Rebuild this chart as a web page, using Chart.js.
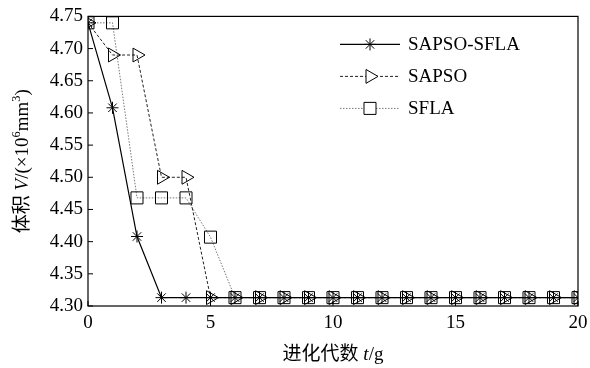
<!DOCTYPE html>
<html>
<head>
<meta charset="utf-8">
<script src="https://cdn.jsdelivr.net/npm/chart.js@4"></script>
<style>
  body { margin: 0; background: #fff; }
  #wrap { width: 590px; height: 368px; }
</style>
</head>
<body>
<div id="wrap"><canvas id="chart" width="590" height="368"></canvas></div>
<script>
const generations = [0, 1, 2, 3, 4, 5, 6, 7, 8, 9, 10, 11, 12, 13, 14, 15, 16, 17, 18, 19, 20];
const sapsoSfla = [4.74, 4.608, 4.408, 4.313, 4.313, 4.313, 4.313, 4.313, 4.313, 4.313, 4.313, 4.313, 4.313, 4.313, 4.313, 4.313, 4.313, 4.313, 4.313, 4.313, 4.313];
const sapso = [4.74, 4.69, 4.69, 4.50, 4.50, 4.313, 4.313, 4.313, 4.313, 4.313, 4.313, 4.313, 4.313, 4.313, 4.313, 4.313, 4.313, 4.313, 4.313, 4.313, 4.313];
const sfla = [4.74, 4.74, 4.468, 4.468, 4.468, 4.407, 4.313, 4.313, 4.313, 4.313, 4.313, 4.313, 4.313, 4.313, 4.313, 4.313, 4.313, 4.313, 4.313, 4.313, 4.313];
const seriesNames = ['SAPSO-SFLA', 'SAPSO', 'SFLA'];
const yTicks = [4.30, 4.35, 4.40, 4.45, 4.50, 4.55, 4.60, 4.65, 4.70, 4.75];
const xTicks = [0, 5, 10, 15, 20];

const serif = '"Liberation Serif", "Times New Roman", "Noto Sans CJK SC", serif';
const fs = 19;

const toPoints = vals => vals.map((v, i) => ({ x: generations[i], y: v }));

// text runs: [text, italic, superscript]
const xTitle = [['进化代数 ', false, false], ['t', true, false], ['/g', false, false]];
const yTitle = [['体积 ', false, false], ['V', true, false], ['/(×10', false, false], ['6', false, true],
                ['mm', false, false], ['3', false, true], [')', false, false]];

function runFont(r) {
    const size = r[2] ? fs * 0.65 : fs;
    return (r[1] ? 'italic ' : '') + size + 'px ' + serif;
}

function drawRuns(ctx, runs, cx, cy) {
    let total = 0;
    runs.forEach(r => { ctx.font = runFont(r); total += ctx.measureText(r[0]).width; });
    let x = cx - total / 2;
    ctx.textBaseline = 'alphabetic';
    runs.forEach(r => {
        ctx.font = runFont(r);
        ctx.fillText(r[0], x, cy + (r[2] ? -fs * 0.4 : 0));
        x += ctx.measureText(r[0]).width;
    });
}

// frame, inward ticks, axis titles and in-plot legend
const framePlugin = {
    id: 'frame',
    afterDraw(chart) {
        const { ctx, chartArea: a, scales } = chart;
        ctx.save();
        ctx.strokeStyle = '#000';
        ctx.lineWidth = 1.2;
        ctx.strokeRect(a.left, a.top, a.right - a.left, a.bottom - a.top);
        ctx.lineWidth = 1;
        ctx.beginPath();
        yTicks.forEach(v => {
            const y = scales.y.getPixelForValue(v);
            ctx.moveTo(a.left, y); ctx.lineTo(a.left + 5, y);
        });
        xTicks.forEach(v => {
            const x = scales.x.getPixelForValue(v);
            ctx.moveTo(x, a.bottom); ctx.lineTo(x, a.bottom - 5);
        });
        ctx.stroke();

        ctx.fillStyle = '#000';
        drawRuns(ctx, xTitle, (a.left + a.right) / 2, a.bottom + 54);
        ctx.save();
        ctx.translate(28, (a.top + a.bottom) / 2);
        ctx.rotate(-Math.PI / 2);
        drawRuns(ctx, yTitle, 0, 0);
        ctx.restore();

        // legend
        const lx = 340, lw = 60;
        chart.data.datasets.forEach((ds, i) => {
            const y = a.top + 28 + i * 32;
            ctx.strokeStyle = ds.borderColor;
            ctx.lineWidth = ds.borderWidth;
            ctx.setLineDash(ds.borderDash || []);
            ctx.beginPath();
            ctx.moveTo(lx, y); ctx.lineTo(lx + lw, y);
            ctx.stroke();
            ctx.setLineDash([]);
            ctx.strokeStyle = '#000';
            ctx.fillStyle = '#fff';
            ctx.lineWidth = 1;
            Chart.helpers.drawPoint(ctx, {
                pointStyle: ds.pointStyle,
                radius: ds.pointRadius,
                rotation: ds.pointRotation || 0,
                borderWidth: 1
            }, lx + lw / 2, y);
            ctx.fillStyle = '#000';
            ctx.font = fs + 'px ' + serif;
            ctx.textBaseline = 'middle';
            ctx.fillText(ds.label, lx + lw + 8, y + 1);
        });
        ctx.restore();
    }
};

new Chart(document.getElementById('chart'), {
    type: 'line',
    data: {
        datasets: [
            {
                label: seriesNames[0],
                data: toPoints(sapsoSfla),
                borderColor: '#000',
                borderWidth: 1.2,
                pointStyle: 'star',
                pointRadius: 6,
                pointBorderColor: '#000',
                pointBackgroundColor: '#000',
                pointBorderWidth: 1,
                order: 1
            },
            {
                label: seriesNames[1],
                data: toPoints(sapso),
                borderColor: '#222',
                borderWidth: 1,
                borderDash: [3, 2],
                pointStyle: 'triangle',
                pointRotation: 90,
                pointRadius: 8,
                pointBorderColor: '#000',
                pointBackgroundColor: 'rgba(255,255,255,0)',
                pointBorderWidth: 1,
                order: 2
            },
            {
                label: seriesNames[2],
                data: toPoints(sfla),
                borderColor: '#777',
                borderWidth: 1,
                borderDash: [1.5, 1.5],
                pointStyle: 'rect',
                pointRadius: 8.5,
                pointBorderColor: '#000',
                pointBackgroundColor: 'rgba(255,255,255,0)',
                pointBorderWidth: 1,
                order: 3
            }
        ]
    },
    options: {
        responsive: false,
        animation: false,
        layout: { padding: { top: 16, right: 0, left: 0, bottom: 0 } },
        plugins: {
            legend: { display: false },
            tooltip: { enabled: false }
        },
        scales: {
            x: {
                type: 'linear',
                min: 0,
                max: 20,
                grid: { display: false, drawTicks: false },
                border: { display: false },
                afterFit(scale) { scale.height = 62; scale.paddingRight = 12; },
                ticks: {
                    stepSize: 5,
                    color: '#000',
                    padding: 6,
                    font: { family: serif, size: fs }
                }
            },
            y: {
                min: 4.30,
                max: 4.75,
                grid: { display: false, drawTicks: false },
                border: { display: false },
                afterFit(scale) { scale.width = 88; },
                ticks: {
                    stepSize: 0.05,
                    color: '#000',
                    padding: 5,
                    font: { family: serif, size: fs },
                    callback: v => v.toFixed(2)
                }
            }
        }
    },
    plugins: [framePlugin]
});
</script>
</body>
</html>
